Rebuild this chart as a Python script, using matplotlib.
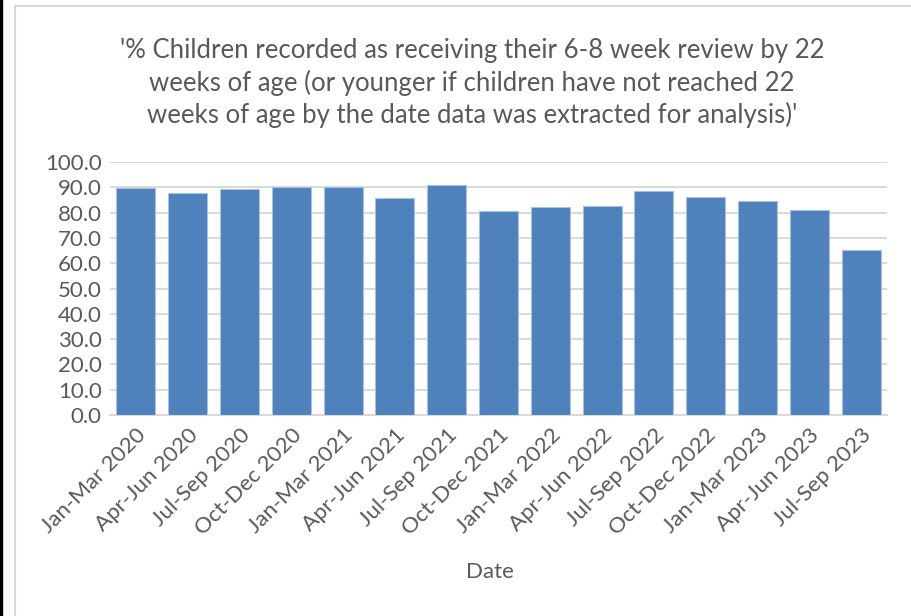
"""6-8 week review coverage by quarter, bar chart."""

import matplotlib
matplotlib.use("Agg")
import matplotlib.pyplot as plt
from matplotlib.lines import Line2D
from matplotlib.patches import Rectangle

quarters = [
    "Jan-Mar 2020", "Apr-Jun 2020", "Jul-Sep 2020", "Oct-Dec 2020",
    "Jan-Mar 2021", "Apr-Jun 2021", "Jul-Sep 2021", "Oct-Dec 2021",
    "Jan-Mar 2022", "Apr-Jun 2022", "Jul-Sep 2022", "Oct-Dec 2022",
    "Jan-Mar 2023", "Apr-Jun 2023", "Jul-Sep 2023",
]
pct_reviewed = [89.7, 87.7, 89.4, 90.2, 90.0, 85.9, 90.9, 80.6,
                82.3, 82.5, 88.5, 86.0, 84.7, 81.1, 65.2]
y_ticks = [0, 10, 20, 30, 40, 50, 60, 70, 80, 90, 100]

title = ("'% Children recorded as receiving their 6-8 week review by 22\n"
         "weeks of age (or younger if children have not reached 22\n"
         "weeks of age by the date data was extracted for analysis)'")

text_col = "#595959"
plt.rcParams["font.family"] = ["Lato", "DejaVu Sans"]

fig = plt.figure(figsize=(9.12, 6.16), dpi=100)
ax = fig.add_axes([0.1206, 0.3263, 0.852, 0.4107])

x = range(len(quarters))
ax.bar(x, pct_reviewed, width=0.75, color="#4f81bd",
       edgecolor="#a9c1e0", linewidth=0.8, zorder=3)

ax.set_xlim(-0.5, len(quarters) - 0.5)
ax.set_ylim(0, 100)
ax.set_yticks(y_ticks)
ax.set_yticklabels([f"{v:.1f}" for v in y_ticks])
ax.set_xticks(list(x))
ax.set_xticklabels(quarters, rotation=45, ha="right", rotation_mode="anchor")

ax.grid(axis="y", color="#d9d9d9", linewidth=1.4, zorder=0)
for side in ["top", "right", "left"]:
    ax.spines[side].set_visible(False)
ax.spines["bottom"].set_color("#d9d9d9")
ax.spines["bottom"].set_linewidth(1.4)
ax.tick_params(axis="both", length=0, colors=text_col, labelsize=16)
ax.tick_params(axis="x", pad=7)
ax.tick_params(axis="y", pad=6)

fig.text(0.5175, 0.865, title, ha="center", va="center",
         fontsize=18.5, color=text_col, linespacing=1.3)
fig.text(0.537, 0.0714, "Date", ha="center", va="center",
         fontsize=16, color=text_col)

# frame edges from the screenshot
fig.add_artist(Rectangle((0, 0), 2.5 / 912, 1, transform=fig.transFigure,
                         color="black", zorder=5))
fig.add_artist(Line2D([15 / 912, 15 / 912], [0, 1 - 6 / 616],
                      transform=fig.transFigure, color="#d9d9d9", linewidth=1.5))
fig.add_artist(Line2D([15 / 912, 1], [1 - 6 / 616, 1 - 6 / 616],
                      transform=fig.transFigure, color="#d9d9d9", linewidth=1.5))

fig.savefig("out.png", dpi=100)
